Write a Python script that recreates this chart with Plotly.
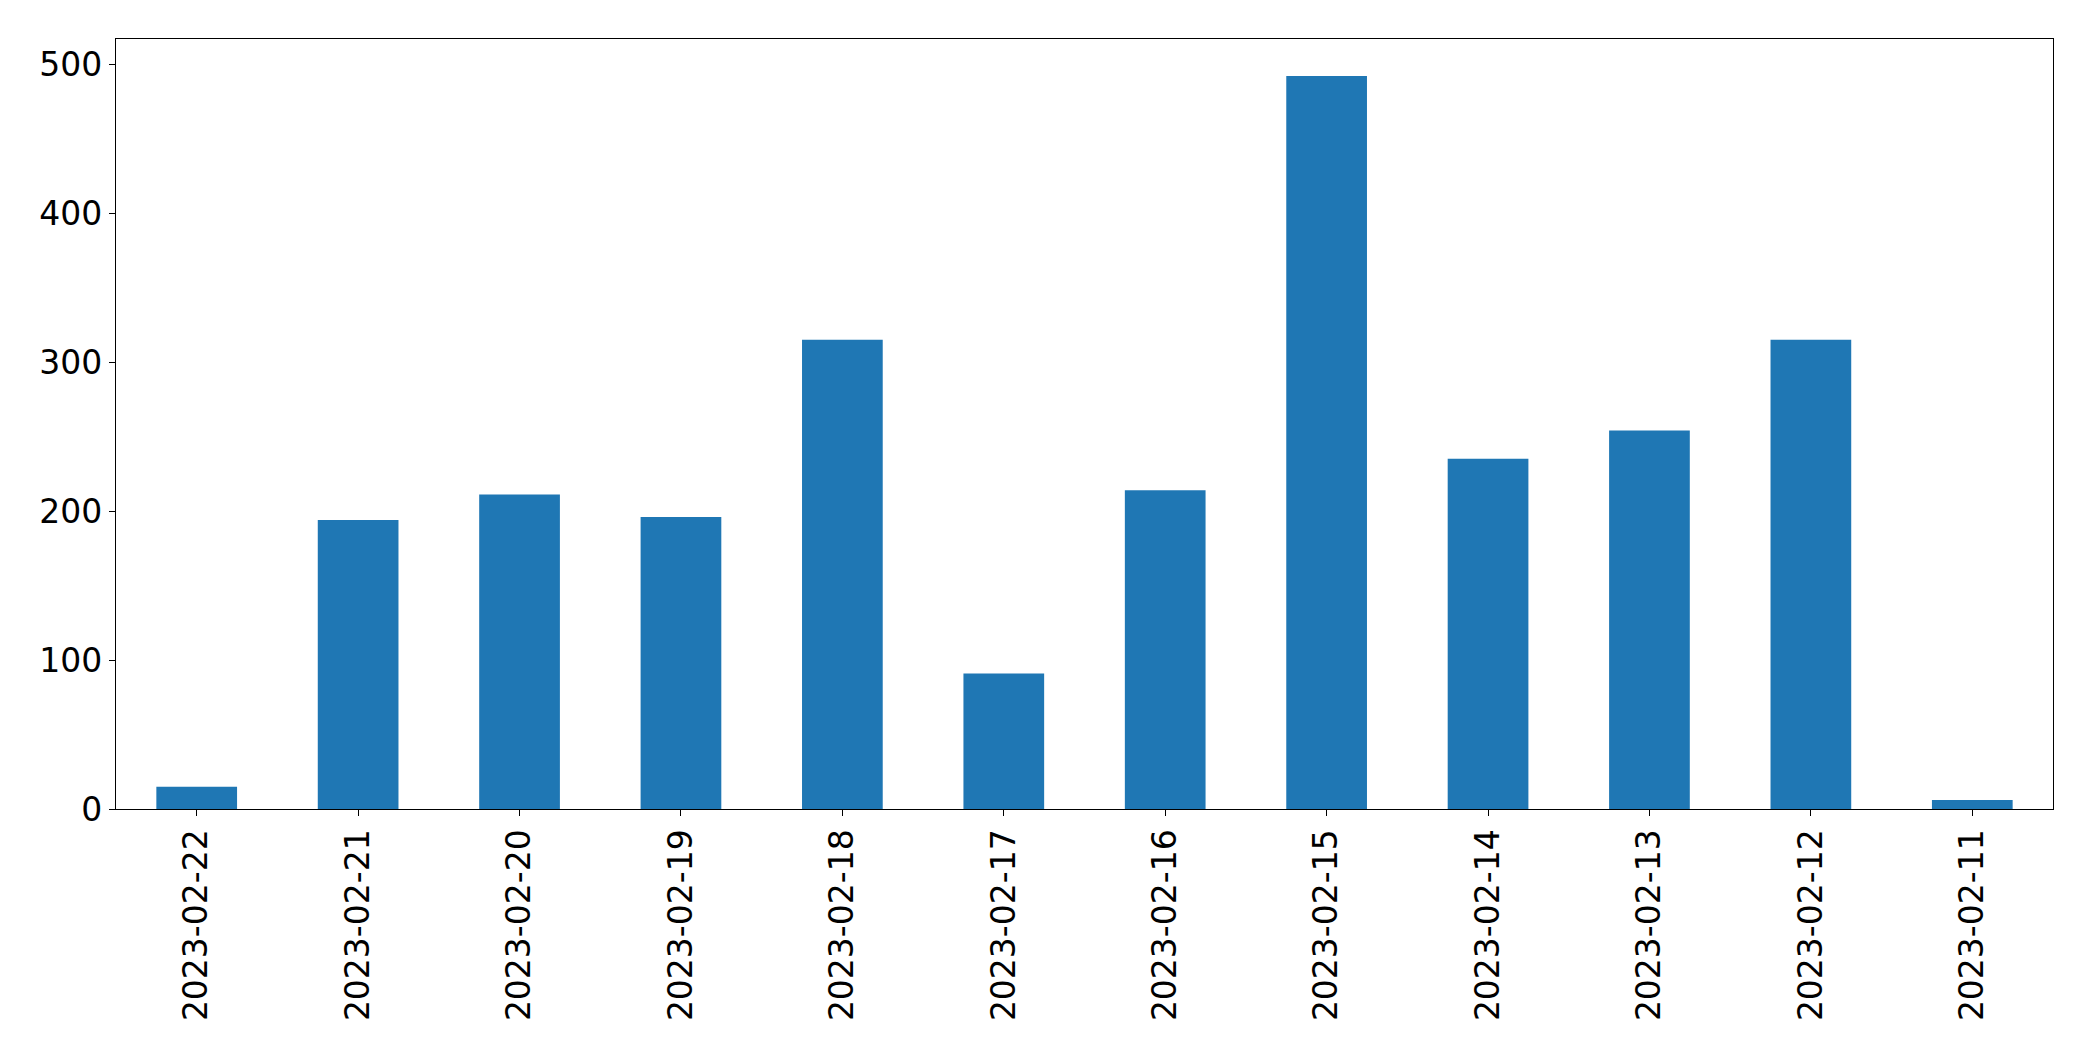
import plotly.graph_objects as go

dates = ["2023-02-22", "2023-02-21", "2023-02-20", "2023-02-19", "2023-02-18", "2023-02-17",
         "2023-02-16", "2023-02-15", "2023-02-14", "2023-02-13", "2023-02-12", "2023-02-11"]
counts = [15, 194, 211, 196, 315, 91, 214, 492, 235, 254, 315, 6]
y_ticks = [0, 100, 200, 300, 400, 500]

fig = go.Figure(go.Bar(x=dates, y=counts, marker=dict(color="#1f77b4", line=dict(width=0))))

fig.update_layout(
    width=2093, height=1061,
    margin=dict(l=116, r=40, t=39, b=252),
    paper_bgcolor="white", plot_bgcolor="white",
    bargap=0.5,
    showlegend=False,
    font=dict(family="DejaVu Sans", size=33, color="black"),
)
fig.update_xaxes(
    type="category", range=[-0.5, len(dates) - 0.5],
    showline=True, linecolor="black", linewidth=1.3, mirror=True,
    ticks="outside", ticklen=6, tickwidth=1.3, tickcolor="black",
    tickangle=-90, showgrid=False, zeroline=False,
    tickfont=dict(size=33, family="DejaVu Sans", color="black"),
)
fig.update_yaxes(
    range=[0, 516.8], tickvals=y_ticks,
    showline=True, linecolor="black", linewidth=1.3, mirror=True,
    ticks="outside", ticklen=6, tickwidth=1.3, tickcolor="black",
    showgrid=False, zeroline=False,
    tickfont=dict(size=33, family="DejaVu Sans", color="black"),
)

fig.write_html("out.html")
